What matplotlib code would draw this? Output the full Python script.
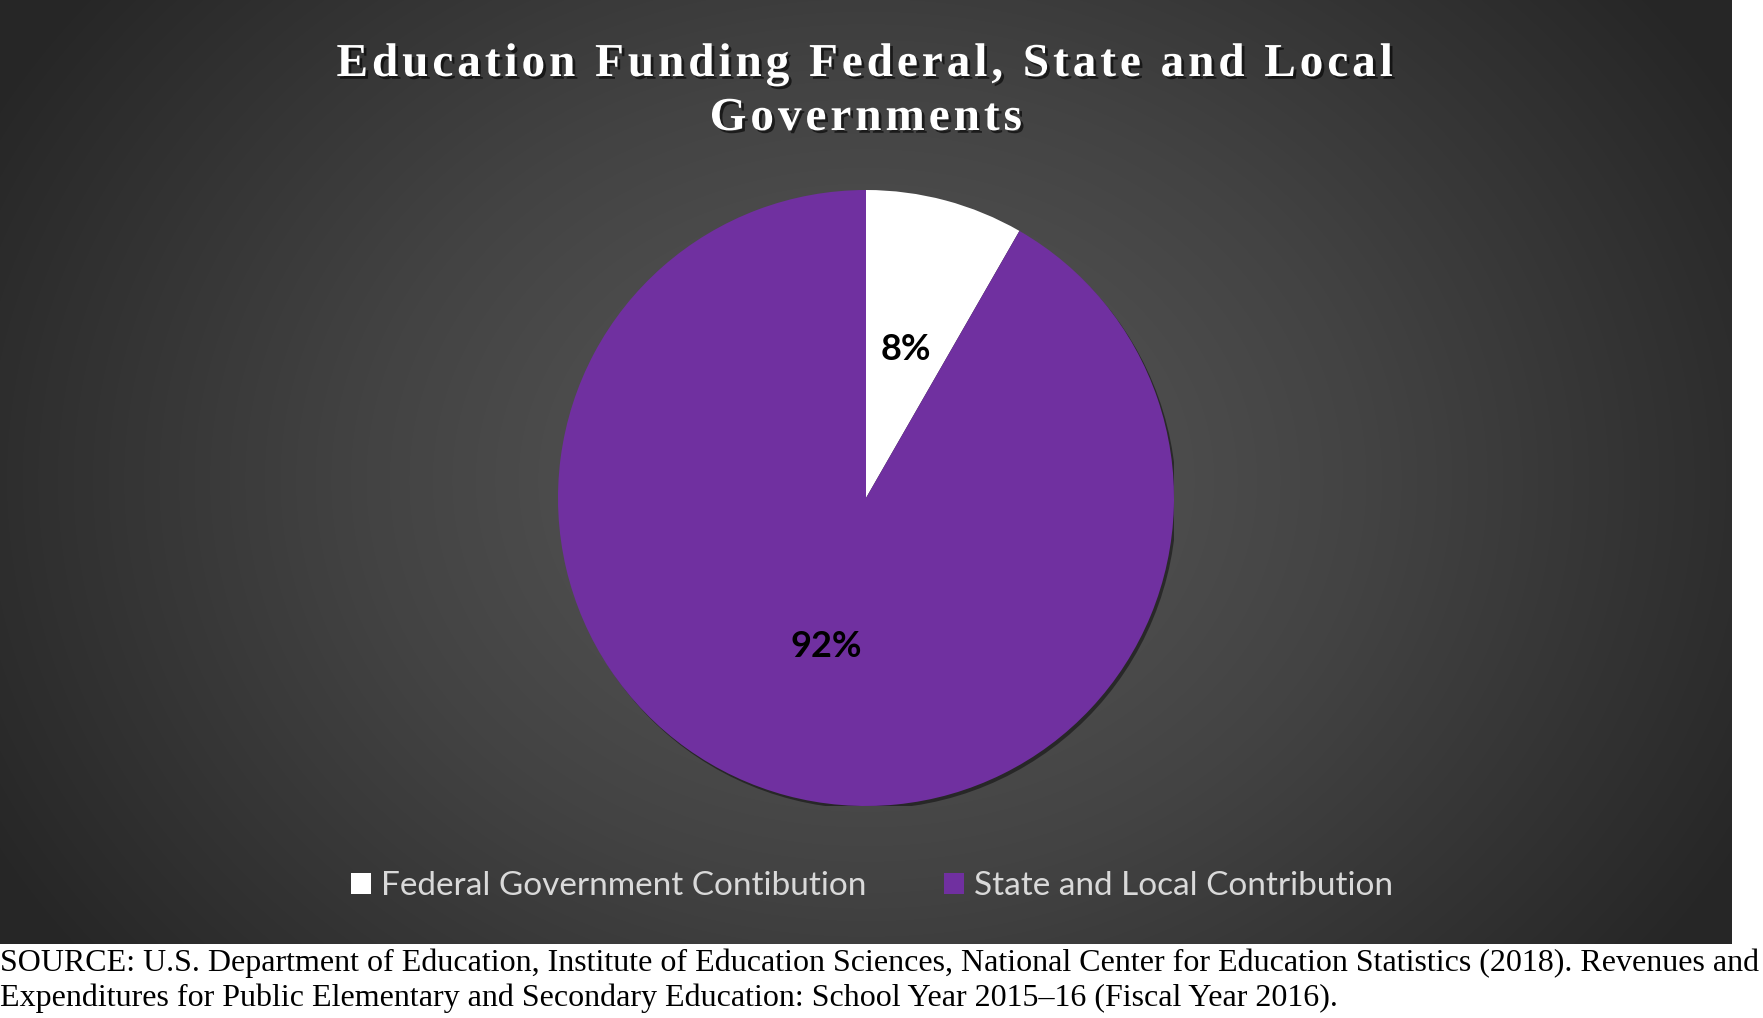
import matplotlib.pyplot as plt
import matplotlib.patheffects as pe
import numpy as np
from matplotlib.colors import LinearSegmentedColormap
from matplotlib.patches import Circle

# data
labels = ["Federal Government Contibution", "State and Local Contribution"]
shares = [8.3, 91.7]
colors = ["#ffffff", "#7030a0"]

title_lines = ["Education Funding Federal, State and Local", "Governments"]
source = ("SOURCE: U.S. Department of Education, Institute of Education Sciences, "
          "National Center for Education Statistics (2018). Revenues and\n"
          "Expenditures for Public Elementary and Secondary Education: "
          "School Year 2015\u201316 (Fiscal Year 2016).")

W, H = 1763, 1018
fig = plt.figure(figsize=(W / 100, H / 100), dpi=100)
fig.patch.set_facecolor("white")

# dark panel with radial gradient
pw, ph = 1732, 944
bg = fig.add_axes([0, (H - ph) / H, pw / W, ph / H])
yy, xx = np.mgrid[0:ph, 0:pw]
d = np.sqrt(((xx - 866) / 1000.0) ** 2 + ((yy - 480) / 800.0) ** 2)
d = np.clip(d, 0, 1)
cmap = LinearSegmentedColormap.from_list("bg", ["#5a5a5a", "#434343", "#262626"])
bg.imshow(d, cmap=cmap, aspect="auto", extent=[0, pw, ph, 0])
bg.set_axis_off()

# pie
R = 308
cx, cy = 866, 498
ax = fig.add_axes([(cx - R) / W, (H - cy - R) / H, 2 * R / W, 2 * R / H])
# soft shadow behind the whole pie
ax.add_patch(Circle((0.008, -0.01), 1.0, color="black", alpha=0.45, lw=0, zorder=0))
wedges, texts, autotexts = ax.pie(
    shares, colors=colors, startangle=90, counterclock=False,
    autopct="%.0f%%", pctdistance=0.5, radius=1,
    wedgeprops=dict(linewidth=0, zorder=1),
    textprops=dict(fontsize=26, fontweight="bold", color="black", family="Lato"),
)
ax.set_xlim(-1, 1)
ax.set_ylim(-1, 1)
ax.set_axis_off()

# title, spaced out letters
shadow = [pe.withSimplePatchShadow(offset=(2, -2), shadow_rgbFace="black", alpha=0.6)]
for i, line in enumerate(title_lines):
    spaced = "\u200a".join(line)
    fig.text(cx / W, 1 - (65 + 54 * i) / H, spaced, ha="center", va="center",
             fontsize=34, fontweight="bold", family=["Liberation Serif", "DejaVu Serif"],
             color="white", path_effects=shadow)

# legend
leg = fig.legend(wedges, labels, loc="center", bbox_to_anchor=(872 / W, 1 - 886 / H),
                 ncol=2, frameon=False, handlelength=0.6, handleheight=0.6,
                 handletextpad=0.3, columnspacing=2.3,
                 prop=dict(family="Lato", size=24))
for t in leg.get_texts():
    t.set_color("#d9d9d9")

# source note
fig.text(0.0, 1 - 981 / H, source, ha="left", va="center",
         fontsize=23.0, family="Liberation Serif", color="black", linespacing=1.25)

fig.savefig("out.png", dpi=100)
